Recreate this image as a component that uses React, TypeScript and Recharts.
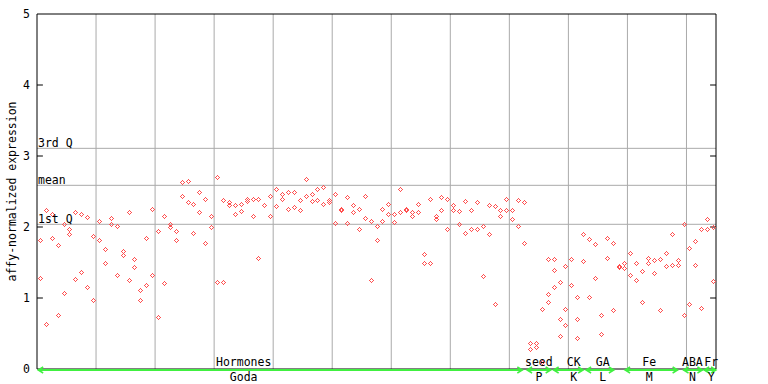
import { ScatterChart, Scatter, XAxis, YAxis, ReferenceLine } from 'recharts';

// one entry per sample column, replicate values
const hormoneSamples: number[][] = [
  [1.82, 1.28], [2.24, 0.64], [2.19, 1.84], [1.74, 0.76], [2.04, 1.07],
  [1.97, 1.9], [2.21, 1.27], [2.18, 1.36], [2.14, 1.15], [1.88, 0.97],
  [2.08, 1.81], [1.69, 1.5], [2.12, 2.04], [2.01, 1.32], [1.66, 1.6],
  [2.21, 1.25], [1.55, 1.43], [1.11, 0.97], [1.85, 1.18], [2.25, 1.32],
  [1.94, 0.73], [2.16, 1.21], [2.04, 2.0], [1.95, 1.82], [2.64, 2.43],
  [2.65, 2.35], [2.32, 1.92], [2.5, 2.21], [2.4, 1.77], [2.16, 2.0],
  [2.71, 1.23], [2.38, 1.23], [2.35, 2.31], [2.31, 2.19], [2.33, 2.22],
  [2.39, 2.36], [2.39, 2.15], [2.4, 1.57], [2.31, 2.31], [2.43, 2.15],
  [2.53, 2.29], [2.47, 2.39], [2.49, 2.26], [2.5, 2.28], [2.38, 2.24],
  [2.67, 2.43], [2.47, 2.36], [2.53, 2.38], [2.57, 2.33], [2.38, 2.35],
  [2.47, 2.05], [2.25, 2.24], [2.42, 2.05], [2.31, 2.21], [2.26, 1.97],
  [2.43, 2.12], [2.08, 1.26], [2.01, 1.81], [2.26, 2.08], [2.33, 2.19],
  [2.19, 2.07], [2.53, 2.21], [2.26, 2.24], [2.21, 2.15], [2.32, 2.21],
  [1.62, 1.49], [2.39, 1.5], [2.16, 2.11], [2.42, 2.24], [2.39, 1.97],
  [2.31, 2.24], [2.22, 2.04], [2.36, 1.91], [2.24, 1.97], [2.35, 1.97],
  [2.01, 1.31], [2.31, 1.9], [2.29, 0.91], [2.24, 2.15], [2.4, 2.24],
  [2.24, 2.11], [2.38, 2.02],
];
const seedSamples: number[][] = [
  [2.35, 1.78], [0.36, 0.28], [0.37, 0.31], [0.84, 0.1], [1.55, 1.05, 0.95],
];
const ckSamples: number[][] = [
  [1.55, 1.39, 1.15], [1.22, 0.71, 0.47], [1.45, 0.85, 0.62],
  [1.55, 1.55, 1.18], [1.02, 0.71, 0.43], [1.9, 1.52],
];
const gaSamples: number[][] = [
  [1.83, 1.01], [1.76, 1.28], [0.76, 0.5], [1.85, 1.56], [1.78, 0.83],
];
const feSamples: number[][] = [
  [1.45, 1.43], [1.49, 1.42], [1.64, 1.33], [1.5, 1.25], [1.38, 0.94],
  [1.56, 1.49], [1.53, 1.35], [1.55, 0.83], [1.63, 1.45], [1.9, 1.46],
  [1.53, 1.47],
];
const abaSamples: number[][] = [[2.04, 0.76], [1.7, 0.91], [1.8, 1.46], [1.97, 0.86]];
const frSamples: number[][] = [[2.11, 1.97], [2.0, 1.24]];

const groupNames = ['Hormones', 'seed', 'CK', 'GA', 'Fe', 'ABA', 'Fr'];
const groupCodes = ['Goda', 'P', 'K', 'L', 'M', 'N', 'Y'];
const groupSpans = [[0.2, 82.2], [83, 87], [87.5, 92.5], [93, 97.7], [99.6, 108.5], [109.5, 112.7], [113, 115]];
const groupLabelCols = [35, 85, 90.9, 95.8, 103.7, 111, 114.2];

const quartiles = [
  { name: '3rd Q', value: 3.108 },
  { name: 'mean', value: 2.587 },
  { name: '1st Q', value: 2.038 },
];
const yTicks = [0, 1, 2, 3, 4, 5];
const gridCols = [10, 20, 30, 40, 50, 60, 70, 80, 90, 100, 110];

const allColumns = [
  ...hormoneSamples, ...seedSamples, ...ckSamples, ...gaSamples,
  ...feSamples, ...abaSamples, ...frSamples,
];
const colCount = allColumns.length;

const points = allColumns.flatMap((vals, i) => vals.map(v => ({ col: i + 0.5, value: v })));

const FONT = '"DejaVu Sans Mono", monospace';
const RED = '#ff5050';
const GREEN = '#40f040';

// hollow pixel diamond like the original marker
const ring = [[0, -2], [-1, -1], [1, -1], [-2, 0], [2, 0], [-1, 1], [1, 1], [0, 2]];
const Diamond = (props: any) => {
  const { cx, cy } = props;
  if (cx == null || cy == null) return <g />;
  const x = Math.round(cx);
  const y = Math.round(cy);
  return (
    <g shapeRendering="crispEdges">
      {ring.map(([dx, dy], k) => (
        <rect key={k} x={x + dx} y={y + dy} width={1} height={1} fill={RED} />
      ))}
    </g>
  );
};

const renderGroup = (p: any, idx: number) => {
  const { x1, y1, x2 } = p;
  const [s, e] = groupSpans[idx];
  const lx = x1 + ((groupLabelCols[idx] - s) / (e - s)) * (x2 - x1);
  const y = y1 + 1;
  return (
    <g>
      <line x1={x1} y1={y} x2={x2} y2={y} stroke={GREEN} strokeWidth={2} />
      <polyline points={`${x1 + 5},${y - 3} ${x1},${y} ${x1 + 5},${y + 3}`} fill="none" stroke={GREEN} strokeWidth={1.5} />
      <polyline points={`${x2 - 5},${y - 3} ${x2},${y} ${x2 - 5},${y + 3}`} fill="none" stroke={GREEN} strokeWidth={1.5} />
      <text x={lx} y={y1 - 3} textAnchor="middle" fontFamily={FONT} fontSize={11.5} fill="#000">
        {groupNames[idx]}
      </text>
      <text x={lx} y={y1 + 11.5} textAnchor="middle" fontFamily={FONT} fontSize={11.5} fill="#000">
        {groupCodes[idx]}
      </text>
    </g>
  );
};

export default function App() {
  return (
    <div style={{ position: 'absolute', left: 0, top: 0, width: 768, height: 384, background: '#fff' }}>
      <ScatterChart width={768} height={384} margin={{ top: 14, right: 52, bottom: 15, left: 7 }}>
        <XAxis type="number" dataKey="col" domain={[0, colCount]} hide />
        <YAxis
          type="number"
          dataKey="value"
          domain={[0, 5]}
          ticks={yTicks}
          width={30}
          tickLine={false}
          tickSize={0}
          tickMargin={7}
          axisLine={{ stroke: '#000' }}
          tick={{ fill: '#000', fontSize: 11.5, fontFamily: FONT }}
          label={{
            value: 'affy-normalized expression',
            angle: -90,
            position: 'insideLeft',
            offset: 5,
            style: { textAnchor: 'middle', fontFamily: FONT, fontSize: 11.5, fill: '#000' },
          }}
        />
        {gridCols.map(c => (
          <ReferenceLine key={`g${c}`} x={c} stroke="#aaaaaa" strokeWidth={1} />
        ))}
        {quartiles.map(q => (
          <ReferenceLine
            key={q.name}
            y={q.value}
            stroke="#aaaaaa"
            strokeWidth={1}
            label={{ value: q.name, position: 'insideBottomLeft', offset: 1, fill: '#000', fontSize: 11.5, fontFamily: FONT }}
          />
        ))}
        <ReferenceLine y={5} stroke="#000" />
        <ReferenceLine y={0} stroke="#000" />
        <ReferenceLine x={colCount} stroke="#000" />
        {yTicks.slice(1, 5).map(t => (
          <ReferenceLine key={`lt${t}`} segment={[{ x: 0, y: t }, { x: 1, y: t }]} stroke="#000" />
        ))}
        {yTicks.slice(1, 5).map(t => (
          <ReferenceLine key={`rt${t}`} segment={[{ x: colCount - 1, y: t }, { x: colCount, y: t }]} stroke="#000" />
        ))}
        {groupSpans.map((sp, i) => (
          <ReferenceLine
            key={groupNames[i]}
            segment={[{ x: sp[0], y: 0 }, { x: sp[1], y: 0 }]}
            stroke={GREEN}
            shape={(p: any) => renderGroup(p, i)}
          />
        ))}
        <Scatter data={points} shape={<Diamond />} isAnimationActive={false} />
      </ScatterChart>
    </div>
  );
}
